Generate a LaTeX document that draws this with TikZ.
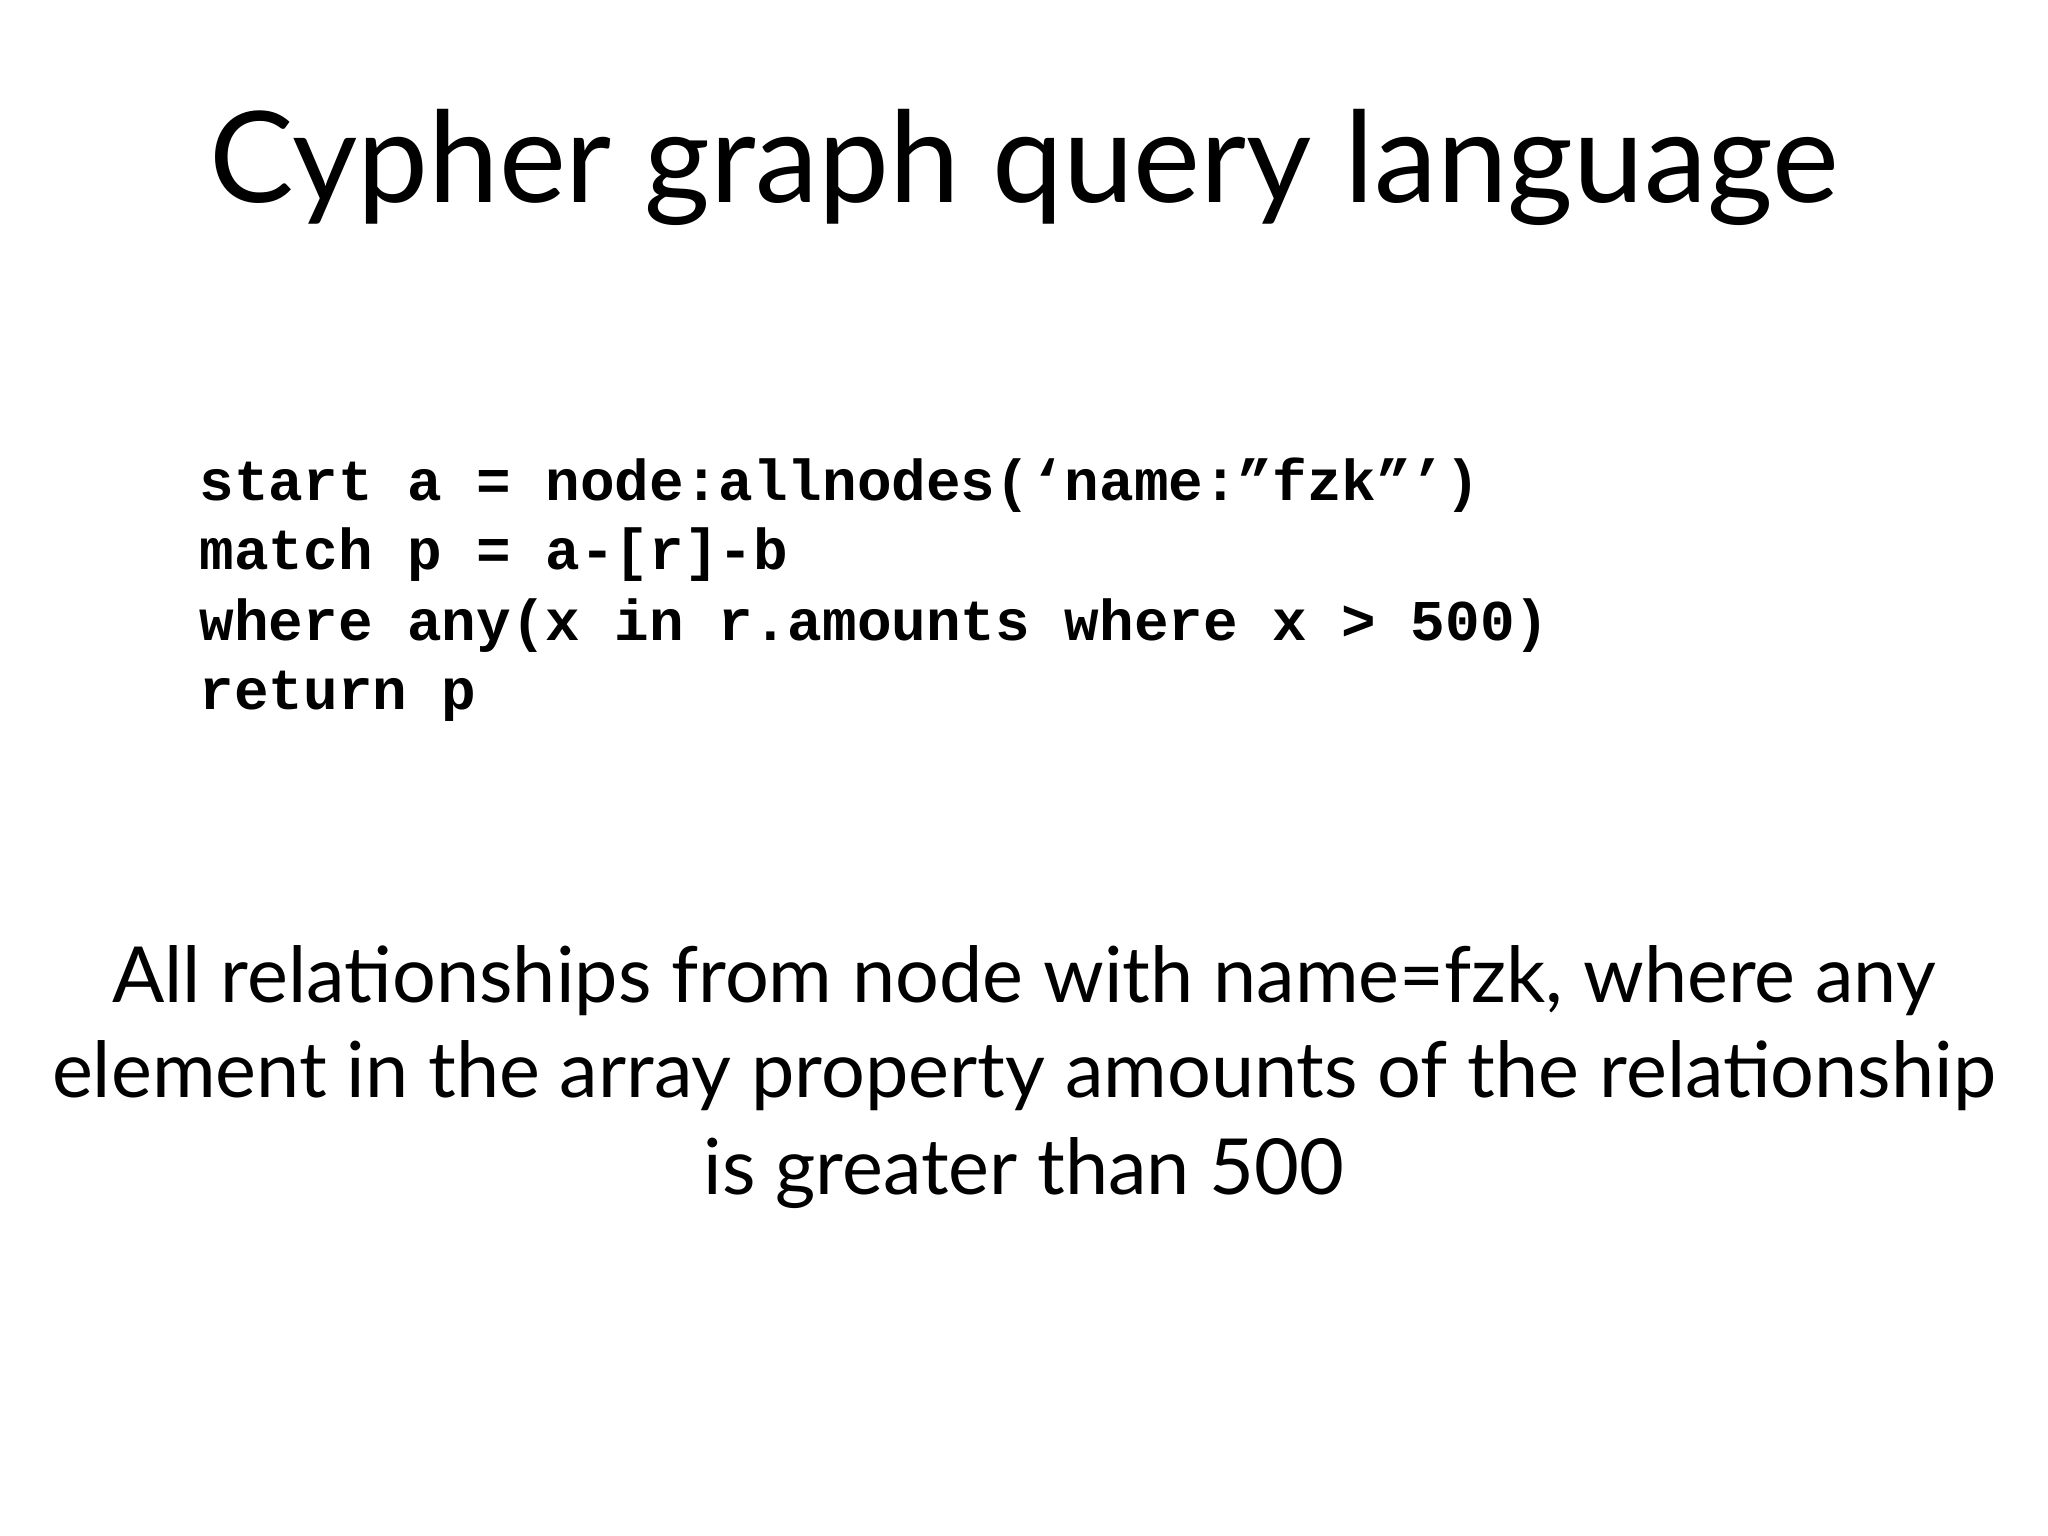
\documentclass[tikz,border=0pt]{standalone}
\usepackage{fontspec}
\setmainfont{Lato}
\newfontfamily\codefont{Liberation Mono}
\begin{document}
\begin{tikzpicture}[x=0.01cm,y=-0.01cm,
  title/.style={anchor=base,font=\fontsize{36}{40}\selectfont,inner sep=0},
  code/.style={anchor=base west,font=\codefont\bfseries\fontsize{16.4}{18}\selectfont,inner sep=0},
  body/.style={anchor=base,font=\fontsize{22}{26}\selectfont,inner sep=0}]
\useasboundingbox[fill=white] (0,0) rectangle (2048,1536);
\node[title] (t) at (1024,202) {Cypher graph query language};
\node[code] (c1) at (199,500) {start a = node:allnodes(‘name:”fzk”’)};
\node[code] (c2) at (199,569) {match p = a-[r]-b};
\node[code] (c3) at (199,640) {where any(x in r.amounts where x > 500)};
\node[code] (c4) at (199,709) {return p};
\node[body] (b1) at (1024,1002) {All relationships from node with name=fzk, where any};
\node[body] (b2) at (1024,1097) {element in the array property amounts of the relationship};
\node[body] (b3) at (1024,1194) {is greater than 500};
\end{tikzpicture}
\end{document}
